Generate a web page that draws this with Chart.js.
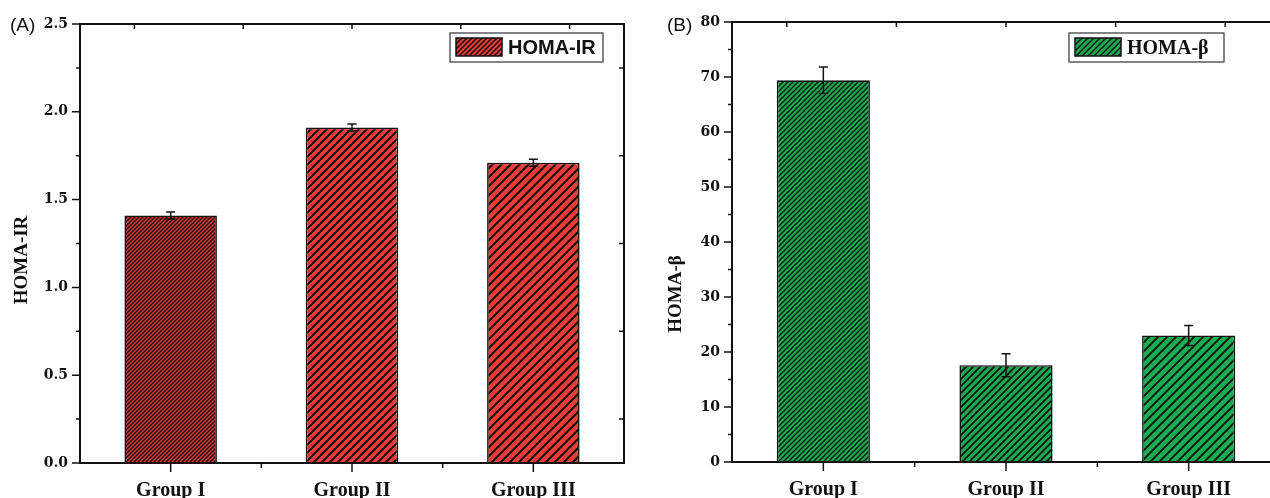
<!DOCTYPE html>
<html>
<head>
<meta charset="utf-8">
<script src="https://cdn.jsdelivr.net/npm/chart.js@4.4.1/dist/chart.umd.min.js"></script>
<style>
  html, body { margin: 0; padding: 0; background: #fff; overflow: hidden; width: 1270px; height: 498px; }
  canvas { position: absolute; top: 0; }
</style>
</head>
<body>
<canvas id="chartA" width="640" height="498" style="left:0"></canvas>
<canvas id="chartB" width="660" height="498" style="left:640px"></canvas>
<script>
const groups = ["Group I", "Group II", "Group III"];

const homaIr = [1.41, 1.91, 1.71];
const homaIrErr = [0.02, 0.02, 0.02];
const irTicks = [0, 0.5, 1.0, 1.5, 2.0, 2.5];

const homaBeta = [69.4, 17.6, 23.0];
const homaBetaErr = [2.4, 2.1, 1.8];
const betaTicks = [0, 10, 20, 30, 40, 50, 60, 70, 80];

const INK = "#111";

// diagonal "/" hatch: black lines over a fill colour
function hatch(color, size, lw) {
  const c = document.createElement("canvas");
  c.width = size;
  c.height = size;
  const g = c.getContext("2d");
  g.fillStyle = color;
  g.fillRect(0, 0, size, size);
  g.strokeStyle = INK;
  g.lineWidth = lw;
  g.beginPath();
  g.moveTo(0, size); g.lineTo(size, 0);
  g.moveTo(-2, 2); g.lineTo(2, -2);
  g.moveTo(size - 2, size + 2); g.lineTo(size + 2, size - 2);
  g.stroke();
  return g.createPattern(c, "repeat");
}

const RED = "#ee3b39";
const GREEN = "#19ac50";

function makeChart(id, o) {
  const ctx = document.getElementById(id).getContext("2d");

  const decor = {
    id: "decor",
    afterDatasetsDraw(chart) {
      const { ctx, chartArea: a, scales: { x, y } } = chart;
      const meta = chart.getDatasetMeta(0);
      ctx.save();
      // error bars
      ctx.strokeStyle = INK;
      ctx.lineWidth = 1.5;
      o.values.forEach((v, i) => {
        const px = meta.data[i].x;
        const hi = y.getPixelForValue(v + o.errors[i]);
        const lo = y.getPixelForValue(v - o.errors[i]);
        ctx.beginPath();
        ctx.moveTo(px, hi); ctx.lineTo(px, lo);
        ctx.moveTo(px - 4.5, hi); ctx.lineTo(px + 4.5, hi);
        ctx.moveTo(px - 4.5, lo); ctx.lineTo(px + 4.5, lo);
        ctx.stroke();
      });

      // frame
      ctx.lineWidth = 2;
      ctx.strokeRect(a.left, a.top, a.right - a.left, a.bottom - a.top);

      ctx.lineWidth = 1.5;
      ctx.beginPath();
      const step = o.ticks[1] - o.ticks[0];
      o.ticks.forEach((v, i) => {
        const py = y.getPixelForValue(v);
        ctx.moveTo(a.left, py); ctx.lineTo(a.left - 8, py);
        if (i < o.ticks.length - 1) {
          const pm = y.getPixelForValue(v + step / 2);
          ctx.moveTo(a.left, pm); ctx.lineTo(a.left - 4, pm);
          ctx.moveTo(a.right, pm); ctx.lineTo(a.right - 5, pm);
        }
      });
      groups.forEach((g, i) => {
        const px = x.getPixelForValue(i);
        ctx.moveTo(px, a.bottom); ctx.lineTo(px, a.bottom + 9);
        if (i < groups.length - 1) {
          const pb = x.getPixelForValue(i + 0.5);
          ctx.moveTo(pb, a.bottom); ctx.lineTo(pb, a.bottom + 5);
        }
      });
      for (let i = 0; i < 5; i++) {
        const px = a.left + (a.right - a.left) * (i + 0.5) / 5;
        ctx.moveTo(px, a.top); ctx.lineTo(px, a.top + 5);
      }
      ctx.stroke();

      // y title
      ctx.fillStyle = INK;
      ctx.font = "bold 19px 'Liberation Serif'";
      ctx.textAlign = "center";
      ctx.textBaseline = "middle";
      ctx.translate(o.titleX, o.titleY);
      ctx.rotate(-Math.PI / 2);
      ctx.fillText(o.title, 0, 0);
      ctx.restore();

      // panel letter
      ctx.save();
      ctx.fillStyle = INK;
      ctx.font = "19px 'Liberation Sans'";
      ctx.textBaseline = "alphabetic";
      ctx.fillText(o.panel, o.panelX, o.panelY);

      // legend
      const L = o.legend;
      ctx.strokeStyle = "#333";
      ctx.lineWidth = 1.2;
      ctx.strokeRect(L.x, L.y, L.w, L.h);
      ctx.fillStyle = L.swatch;
      ctx.fillRect(L.x + 6, L.y + 5, 46, 18);
      ctx.strokeStyle = INK;
      ctx.lineWidth = 1.5;
      ctx.strokeRect(L.x + 6, L.y + 5, 46, 18);
      ctx.fillStyle = INK;
      ctx.font = L.font;
      ctx.textBaseline = "middle";
      ctx.fillText(chart.data.datasets[0].label, L.x + 58, L.y + L.h / 2 + 1);
      ctx.restore();
    }
  };

  return new Chart(ctx, {
    type: "bar",
    data: {
      labels: groups,
      datasets: [
        {
          label: o.title,
          data: o.values,
          backgroundColor: o.patterns,
          borderColor: INK,
          borderWidth: 1.6,
          categoryPercentage: 1,
          barPercentage: 0.51,
        },
      ],
    },
    options: {
      responsive: false,
      animation: false,
      devicePixelRatio: 1,
      layout: { padding: { top: o.padTop, right: o.padRight, left: 0, bottom: 0 } },
      plugins: { legend: { display: false }, tooltip: { enabled: false } },
      scales: {
        x: {
          offset: true,
          grid: { display: false, drawTicks: false },
          border: { display: false },
          ticks: {
            padding: 16,
            color: INK,
            font: { family: "'Liberation Serif'", size: 20, weight: "bold" },
          },
          afterFit: (s) => { s.height = o.xHeight; },
        },
        y: {
          min: o.ticks[0],
          max: o.ticks[o.ticks.length - 1],
          grid: { display: false, drawTicks: false },
          border: { display: false },
          afterBuildTicks: (s) => { s.ticks = o.ticks.map((v) => ({ value: v })); },
          ticks: {
            padding: 12,
            color: INK,
            font: { family: "'DejaVu Serif'", size: 14, weight: "bold" },
            callback: o.fmt,
          },
          afterFit: (s) => { s.width = o.yWidth; },
        },
      },
    },
    plugins: [decor],
  });
}

makeChart("chartA", {
  title: "HOMA-IR",
  values: homaIr,
  errors: homaIrErr,
  ticks: irTicks,
  fmt: (v) => v.toFixed(1),
  patterns: [hatch(RED, 4, 1.5), hatch(RED, 8, 2), hatch(RED, 9, 2)],
  padTop: 24, padRight: 16, xHeight: 35, yWidth: 80,
  titleX: 22, titleY: 260,
  panel: "(A)", panelX: 10, panelY: 31,
  legend: { x: 450, y: 33, w: 153, h: 29, swatch: hatch(RED, 5, 1.5), font: "bold 20px 'Liberation Sans'" },
});

makeChart("chartB", {
  title: "HOMA-\u03b2",
  values: homaBeta,
  errors: homaBetaErr,
  ticks: betaTicks,
  fmt: (v) => String(v),
  patterns: [hatch(GREEN, 5, 1.3), hatch(GREEN, 7, 1.8), hatch(GREEN, 9, 1.9)],
  padTop: 22, padRight: 20, xHeight: 36, yWidth: 92,
  titleX: 36, titleY: 294,
  panel: "(B)", panelX: 27, panelY: 31,
  legend: { x: 429, y: 33, w: 155, h: 29, swatch: hatch(GREEN, 6, 1.5), font: "bold 20px 'Liberation Serif'" },
});
</script>
</body>
</html>
